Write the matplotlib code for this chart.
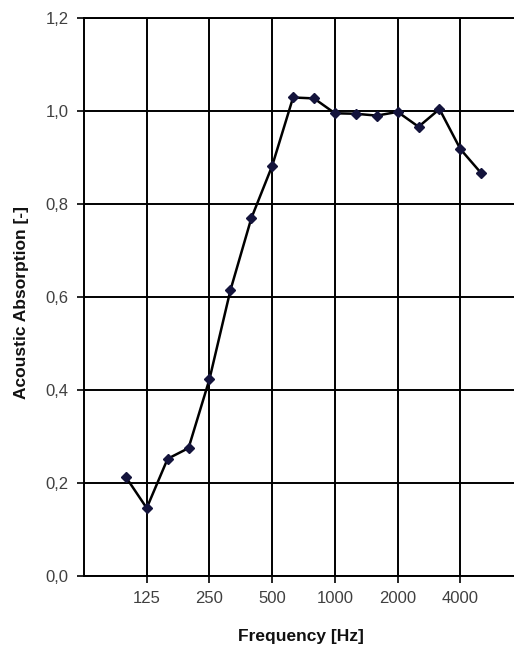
import numpy as np
import matplotlib
matplotlib.use("Agg")
import matplotlib.pyplot as plt

plt.rcParams['font.family'] = ['Liberation Sans', 'DejaVu Sans']

# third-octave band centres and measured absorption
freqs = [100, 125, 160, 200, 250, 315, 400, 500, 630, 800,
         1000, 1250, 1600, 2000, 2500, 3150, 4000, 5000]
absorption = [0.213, 0.146, 0.252, 0.275, 0.423, 0.614, 0.769, 0.882, 1.029, 1.027,
              0.995, 0.994, 0.990, 0.998, 0.966, 1.004, 0.918, 0.866]
tick_freqs = [125, 250, 500, 1000, 2000, 4000]
y_ticks = [0.0, 0.2, 0.4, 0.6, 0.8, 1.0, 1.2]

# bands sit evenly on the axis (log spacing)
xpos = np.arange(len(freqs))
tick_pos = [freqs.index(f) for f in tick_freqs]

fig = plt.figure(figsize=(5.14, 6.46), dpi=100)
ax = fig.add_axes([0.1634, 0.1084, 0.895, 0.8638])

ax.plot(xpos, absorption, color='black', lw=1.8, zorder=3,
        marker='D', markersize=5.5, markerfacecolor='#14143c',
        markeredgecolor='#14143c')

ax.set_xlim(-2, 20)
ax.set_ylim(0, 1.2)
ax.set_xticks(tick_pos)
ax.set_xticklabels([str(f) for f in tick_freqs])
ax.set_yticks(y_ticks)
ax.set_yticklabels([f"{v:.1f}".replace('.', ',') for v in y_ticks])

ax.grid(True, color='black', lw=1.4)
ax.set_axisbelow(True)
for side in ['left', 'top', 'bottom']:
    ax.spines[side].set_linewidth(1.4)
ax.spines['right'].set_visible(False)

ax.tick_params(axis='both', direction='out', length=5, width=1.2,
               colors='black', labelcolor='#404040', labelsize=12, pad=6)

fig.text(22 / 514, 1 - 302 / 646, 'Acoustic Absorption [-]', fontsize=12.5,
         fontweight='bold', rotation=90, ha='center', va='center', color='#111111')
fig.text(301 / 514, 1 - 636 / 646, 'Frequency [Hz]', fontsize=12.5,
         fontweight='bold', ha='center', va='center', color='#111111')

fig.savefig('out.png', dpi=100)
